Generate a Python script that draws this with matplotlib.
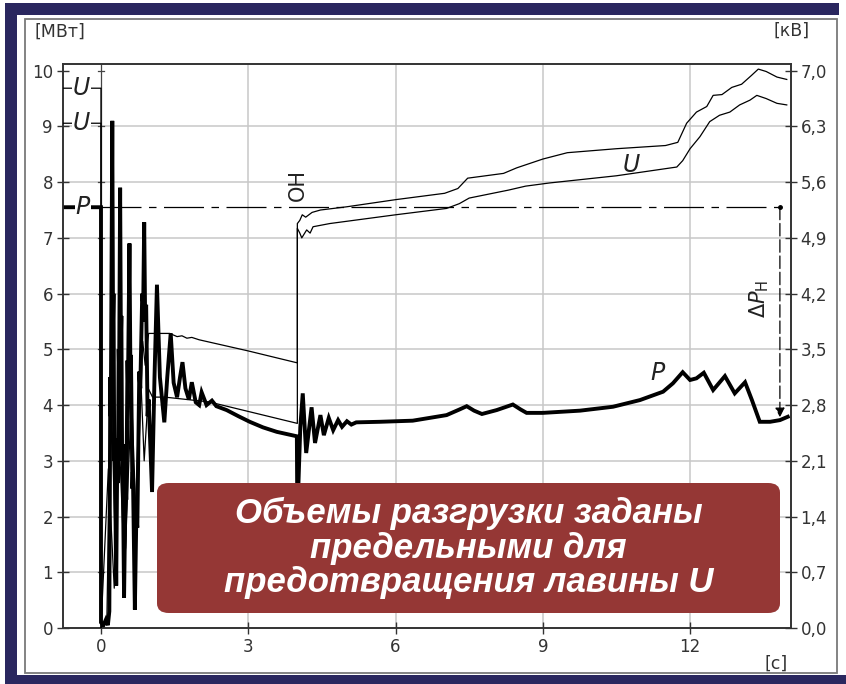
import matplotlib
matplotlib.use("Agg")
import matplotlib.pyplot as plt
from matplotlib.patches import Rectangle, FancyBboxPatch

# ---- data -------------------------------------------------------------
# Active power P, MW (thick trace)
p_t = [-0.78, 0.0, 0.0, 0.05, 0.10, 0.14, 0.17, 0.19, 0.20, 0.215, 0.23, 0.245,
       0.255, 0.27, 0.28, 0.31, 0.33, 0.345, 0.36, 0.37, 0.39, 0.405, 0.415,
       0.43, 0.44, 0.47, 0.50, 0.515, 0.54, 0.55, 0.58, 0.60, 0.61, 0.64, 0.65,
       0.69, 0.72, 0.74, 0.78, 0.80, 0.84, 0.86, 0.88, 0.90, 0.92, 0.95, 0.97,
       1.04,
       1.09, 1.14, 1.20, 1.29, 1.35, 1.42, 1.48, 1.55, 1.61, 1.66, 1.72, 1.79,
       1.85, 1.93, 2.00, 2.05, 2.15, 2.26, 2.35, 2.56, 2.80, 3.03, 3.30, 3.58,
       3.99, 4.00, 4.06, 4.11, 4.18, 4.29, 4.36, 4.47, 4.54, 4.64, 4.73, 4.83,
       4.91, 5.01, 5.10, 5.20, 5.68, 6.35, 7.04, 7.30, 7.45, 7.60, 7.76, 8.06,
       8.39, 8.55, 8.67, 9.00, 9.76, 10.43, 10.98, 11.45, 11.65, 11.85, 12.00,
       12.13, 12.28, 12.47, 12.71, 12.91, 13.12, 13.26, 13.42, 13.63, 13.83,
       13.99]
p_mw = [7.55, 7.55, 0.10, 0.05, 0.15, 0.05, 0.30, 4.50, 3.80, 6.50, 9.10, 5.50,
        6.00, 3.00, 3.40, 0.76, 3.00, 2.60, 5.00, 4.60, 7.90, 5.20, 5.60,
        3.00, 3.30, 0.54, 2.60, 2.30, 4.80, 4.40, 6.90, 4.50, 4.90, 2.50, 2.80,
        0.33, 2.00, 1.80, 4.60, 4.30, 6.00, 5.80, 7.28, 5.50, 5.80, 3.80, 4.10,
        2.44,
        4.50, 6.16, 4.50, 3.69, 4.50, 5.29, 4.40, 4.14, 4.50, 4.77, 4.30, 4.10,
        4.41, 4.05, 4.00, 4.23, 4.00, 4.08, 3.98, 3.91, 3.80, 3.70, 3.60, 3.52,
        3.44, 2.00, 3.60, 4.21, 3.14, 3.96, 3.32, 3.82, 3.46, 3.77, 3.55, 3.73,
        3.61, 3.71, 3.65, 3.69, 3.70, 3.72, 3.82, 3.92, 3.98, 3.90, 3.84, 3.91,
        4.01, 3.92, 3.86, 3.86, 3.90, 3.97, 4.09, 4.24, 4.39, 4.59, 4.45,
        4.48, 4.58, 4.27, 4.52, 4.21, 4.41, 4.09, 3.70, 3.70, 3.73,
        3.79]

# Voltage U, kV (two thin traces)
u1_t = [-0.78, 0.0, 0.0, 0.12, 0.20, 0.30, 0.40, 0.50, 0.60, 0.72, 0.85, 0.90,
        0.97, 1.40, 1.55, 1.65, 1.75, 1.85, 2.00, 3.00, 4.00, 4.00, 4.05, 4.10,
        4.17, 4.30, 4.47, 5.00, 6.00, 7.00, 7.27, 7.47, 8.20, 8.47, 9.00, 9.50,
        10.50, 11.50, 11.75, 11.93, 12.13, 12.34, 12.47, 12.65, 12.85, 13.05,
        13.25, 13.39, 13.55, 13.77, 13.97]
u1_kv = [6.78, 6.78, 0.00, 0.10, 3.20, 0.80, 3.40, 1.00, 3.30, 1.30, 3.60, 3.30,
         3.70, 3.70, 3.66, 3.67, 3.64, 3.65, 3.62, 3.48, 3.33, 5.08, 5.12, 5.19,
         5.16, 5.22, 5.25, 5.29, 5.38, 5.46, 5.52, 5.65, 5.71, 5.78, 5.89, 5.97,
         6.02, 6.06, 6.10, 6.34, 6.48, 6.55, 6.69, 6.70, 6.79, 6.83,
         6.94, 7.02, 6.99, 6.92, 6.89]

u2_t = [-0.78, 0.0, 0.0, 0.15, 0.27, 0.37, 0.48, 0.60, 0.70, 0.80, 0.88, 0.97,
        1.05, 1.30, 2.20, 4.00, 4.00, 4.05, 4.09, 4.19, 4.26, 4.32, 4.66, 6.00,
        7.04, 7.30, 7.50, 8.30, 8.65, 9.14, 10.50, 11.73, 11.85, 12.00, 12.20,
        12.40, 12.60, 12.81, 13.01, 13.22, 13.36, 13.55, 13.77, 13.97]
u2_kv = [6.34, 6.34, 0.00, 2.00, 0.50, 2.40, 0.70, 2.60, 1.40, 3.30, 2.10, 3.00,
         2.90, 2.90, 2.84, 2.57, 5.02, 4.96, 4.90, 5.00, 4.96, 5.04, 5.08, 5.19,
         5.27, 5.33, 5.40, 5.50, 5.55, 5.59, 5.68, 5.79, 5.87, 6.02, 6.17,
         6.36, 6.44, 6.48, 6.57, 6.63, 6.69, 6.65, 6.59, 6.57]

p_initial = 7.55      # pre-disturbance power level, MW
p_final = 3.78        # power after load shedding, MW
dp_time = 13.83       # time at which the shed volume is shown, s
switch_time = 4.0     # moment of the "ОН" command, s

x_ticks = [0, 3, 6, 9, 12]
p_ticks = list(range(0, 11))
u_ticks = [0.0, 0.7, 1.4, 2.1, 2.8, 3.5, 4.2, 4.9, 5.6, 6.3, 7.0]

caption = "Объемы разгрузки заданы\nпредельными для\nпредотвращения лавины U"

# ---- figure -----------------------------------------------------------
W, H = 846, 684
fig = plt.figure(figsize=(W / 100, H / 100), dpi=100)
fig.patch.set_facecolor("white")


def fx(x):
    return x / W


def fy(y):
    return 1 - y / H


navy = "#2a275f"
for (x0, y0, x1, y1) in [(5, 3, 839, 15), (5, 3, 17, 684), (5, 675, 846, 684)]:
    fig.add_artist(Rectangle((fx(x0), fy(y1)), fx(x1) - fx(x0), fy(y0) - fy(y1),
                             transform=fig.transFigure, facecolor=navy,
                             edgecolor="none", zorder=0))
fig.add_artist(Rectangle((fx(25), fy(673)), fx(837) - fx(25), fy(19) - fy(673),
                         transform=fig.transFigure, facecolor="none",
                         edgecolor="#7a7a7a", lw=1.3, zorder=1))

ax = fig.add_axes([fx(62.7), fy(628), fx(790.7) - fx(62.7), fy(64) - fy(628)])
ax.set_xlim(-0.78, 14.05)
ax.set_ylim(0, 10.12)
ax2 = ax.twinx()
ax2.set_ylim(0, 10.12 * 0.7)

grid_c = "#c8c8c8"
for t in x_ticks[1:]:
    ax.axvline(t, color=grid_c, lw=1.1, zorder=0)
for p in p_ticks[1:-1]:
    ax.axhline(p, color=grid_c, lw=1.1, zorder=0)

# inner time-zero axis with small ticks
ax.axvline(0, color="#444444", lw=0.9, zorder=1)
for p in p_ticks[1:]:
    ax.plot([-0.07, 0.07], [p, p], color="#444444", lw=0.9, zorder=1)

# traces
ax2.plot(u1_t, u1_kv, color="black", lw=0.9, zorder=3)
ax2.plot(u2_t, u2_kv, color="black", lw=0.9, zorder=3)
ax.plot(p_t, p_mw, color="black", lw=2.8, zorder=4, solid_joinstyle="miter")

# pre-disturbance power level and shed volume
ax.plot([0, dp_time], [p_initial, p_initial], color="black", lw=0.9,
        dashes=(32, 6, 6, 6), zorder=2)
ax.plot([dp_time], [p_initial], marker="o", ms=2.5, color="black", zorder=5)
ax.annotate("", xy=(dp_time, p_final), xytext=(dp_time, p_initial),
            arrowprops=dict(arrowstyle="-|>", color="black", lw=0.9,
                            linestyle=(0, (10, 3)), mutation_scale=14,
                            shrinkA=0, shrinkB=0), zorder=5)
ax.text(dp_time - 0.42, 5.9, r"$\mathit{\Delta P}_{\mathrm{Н}}$", rotation=90,
        ha="center", va="center", fontsize=15, color="#222222", zorder=6)

# curve labels
lab = dict(fontsize=17, style="italic", color="#222222", ha="center",
           va="center", zorder=6)
ax2.text(-0.40, u1_kv[0], "U", bbox=dict(fc="white", ec="none", pad=0.5), **lab)
ax2.text(-0.40, u2_kv[0], "U", bbox=dict(fc="white", ec="none", pad=0.5), **lab)
ax.text(-0.37, p_initial, "P", bbox=dict(fc="white", ec="none", pad=0.5), **lab)
ax.text(10.81, 8.3, "U", **lab)
ax.text(11.34, 4.57, "P", **lab)
ax.text(switch_time + 0.01, 7.95, "ОН", rotation=90, fontsize=15,
        color="#222222", ha="center", va="center", zorder=6)

# axes styling
for a in (ax, ax2):
    for s in a.spines.values():
        s.set_color("#333333")
        s.set_linewidth(1.2)
ax.set_xticks(x_ticks)
ax.set_xticklabels([str(t) for t in x_ticks])
ax.set_yticks(p_ticks)
ax.set_yticklabels([str(p) for p in p_ticks])
ax2.set_yticks(u_ticks)
ax2.set_yticklabels([f"{u:.1f}".replace(".", ",") for u in u_ticks])
ax.tick_params(axis="both", direction="inout", length=8, width=1,
               color="#333333", labelcolor="#333333", labelsize=12, pad=3)
ax2.tick_params(axis="y", direction="inout", length=8, width=1,
                color="#333333", labelcolor="#333333", labelsize=12, pad=3)

fig.text(fx(35), fy(32), "[МВт]", fontsize=12.5, color="#333333",
         ha="left", va="center")
fig.text(fx(792), fy(31), "[кВ]", fontsize=12.5, color="#333333",
         ha="center", va="center")
fig.text(fx(776), fy(664), "[с]", fontsize=12.5, color="#333333",
         ha="center", va="center")

# caption box
fig.add_artist(FancyBboxPatch((fx(157), fy(613)), fx(780) - fx(157),
                              fy(483) - fy(613),
                              boxstyle="round,pad=0,rounding_size=0.014",
                              transform=fig.transFigure, facecolor="#953735",
                              edgecolor="none", zorder=10))
fig.text(fx(468.5), fy(548), caption, fontsize=25, fontweight="bold",
         style="italic", family="Liberation Sans", color="white",
         ha="center", va="center", linespacing=1.07, zorder=11)

fig.savefig("out.png", dpi=100)
